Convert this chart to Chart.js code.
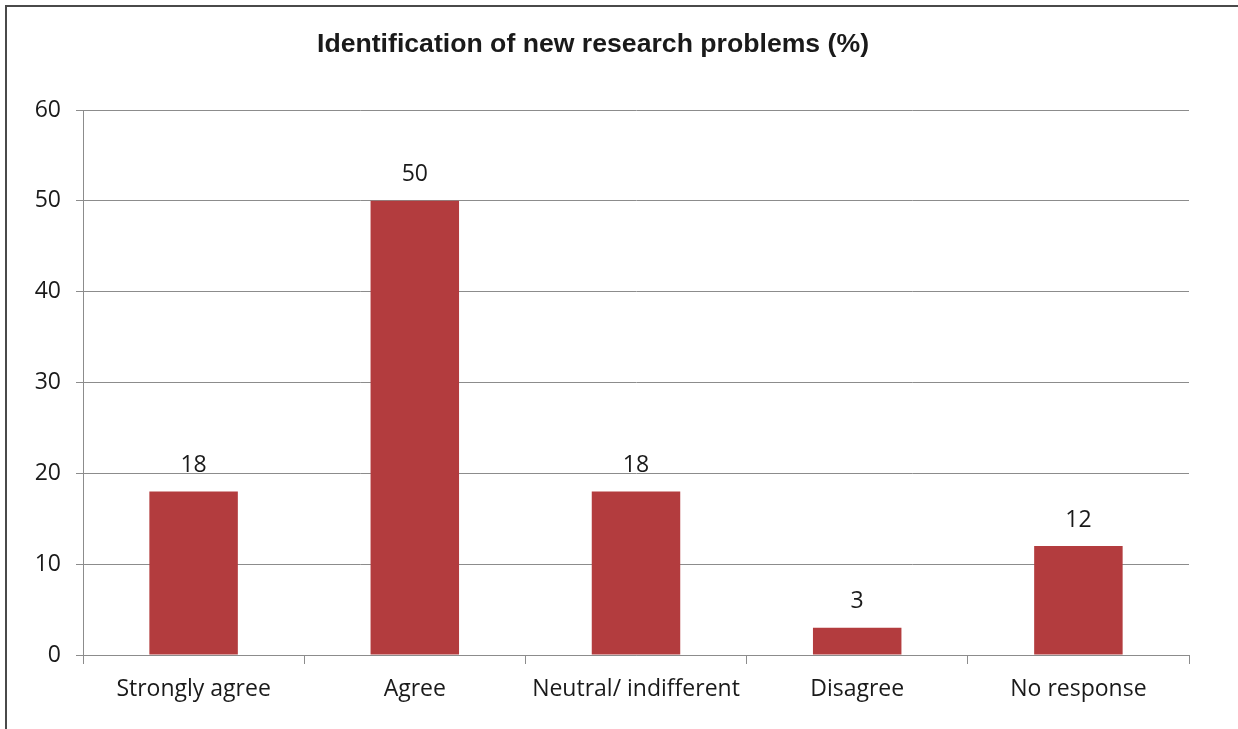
<!DOCTYPE html>
<html>
<head>
<meta charset="utf-8">
<script src="https://cdn.jsdelivr.net/npm/chart.js@4.4.1/dist/chart.umd.min.js"></script>
<style>
  html, body { margin: 0; padding: 0; background: #ffffff; }
  #wrap { position: relative; width: 1238px; height: 729px; overflow: hidden; }
  #frame { position: absolute; left: 5px; top: 5px; width: 1250px; height: 740px;
           border-left: 2px solid #4a4a4a; border-top: 2px solid #4a4a4a; box-sizing: border-box; }
  canvas { position: absolute; left: 0; top: 0; }
</style>
</head>
<body>
<div id="wrap">
  <div id="frame"></div>
  <canvas id="chart" width="1238" height="729"></canvas>
</div>
<script>
// Survey responses: identification of new research problems (%)
const categories = ['Strongly agree', 'Agree', 'Neutral/ indifferent', 'Disagree', 'No response'];
const percentages = [18, 50, 18, 3, 12];
const yTicks = [0, 10, 20, 30, 40, 50, 60];
const chartTitle = 'Identification of new research problems (%)';

const BAR_COLOR = '#b33c3e';
const GRID_COLOR = '#8c8c8c';
const LABEL_FONT = { family: '"Open Sans", sans-serif', size: 23 };

// Title drawn centred and slightly condensed, like a narrow bold face
const titlePlugin = {
  id: 'condensedTitle',
  afterDraw(chart) {
    const ctx = chart.ctx;
    ctx.save();
    ctx.font = 'bold 26px "Liberation Sans", Arial, sans-serif';
    ctx.fillStyle = '#1a1a1a';
    ctx.textBaseline = 'middle';
    ctx.textAlign = 'center';
    const w = ctx.measureText(chartTitle).width;
    const target = 552;
    const sx = target / w;
    ctx.translate(593, 45);
    ctx.scale(sx, 1);
    ctx.fillText(chartTitle, 0, 0);
    ctx.restore();
  }
};

// Value printed above each bar
const valueLabels = {
  id: 'valueLabels',
  afterDatasetsDraw(chart) {
    const ctx = chart.ctx;
    const meta = chart.getDatasetMeta(0);
    ctx.save();
    ctx.font = `${LABEL_FONT.size}px ${LABEL_FONT.family}`;
    ctx.fillStyle = '#1a1a1a';
    ctx.textAlign = 'center';
    ctx.textBaseline = 'middle';
    meta.data.forEach((bar, i) => {
      ctx.fillText(String(percentages[i]), bar.x, bar.y - 26);
    });
    ctx.restore();
  }
};

new Chart(document.getElementById('chart'), {
  type: 'bar',
  data: {
    labels: categories,
    datasets: [{
      data: percentages,
      backgroundColor: BAR_COLOR,
      borderWidth: 0,
      barPercentage: 0.4,
      categoryPercentage: 1.0
    }]
  },
  options: {
    responsive: false,
    animation: false,
    events: [],
    layout: { padding: { top: 110, right: 49, bottom: 0, left: 0 } },
    plugins: {
      legend: { display: false },
      title: { display: false },
      tooltip: { enabled: false }
    },
    scales: {
      x: {
        offset: true,
        afterFit(scale) { scale.height = 74; },
        grid: {
          offset: true,
          drawOnChartArea: false,
          drawTicks: true,
          tickLength: 9,
          color: GRID_COLOR,
          lineWidth: 1
        },
        border: { display: true, color: GRID_COLOR, width: 1 },
        ticks: {
          color: '#1a1a1a',
          font: LABEL_FONT,
          padding: 12,
          maxRotation: 0,
          autoSkip: false
        }
      },
      y: {
        min: 0,
        max: 60,
        afterFit(scale) { scale.width = 83; },
        afterBuildTicks(scale) { scale.ticks = yTicks.map(v => ({ value: v })); },
        grid: {
          color: GRID_COLOR,
          lineWidth: 1,
          drawTicks: true,
          tickLength: 7
        },
        border: { display: true, color: GRID_COLOR, width: 1 },
        ticks: {
          color: '#1a1a1a',
          font: LABEL_FONT,
          padding: 15
        }
      }
    }
  },
  plugins: [valueLabels, titlePlugin]
});
</script>
</body>
</html>
